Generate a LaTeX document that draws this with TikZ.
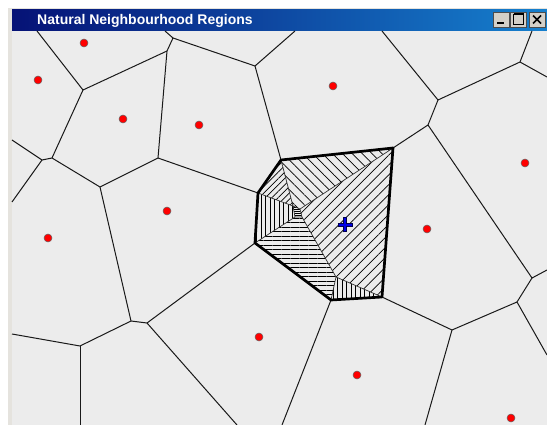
\documentclass[tikz,border=0pt]{standalone}
\usepackage{fontspec}
\setmainfont{Liberation Sans}
\usetikzlibrary{patterns.meta}
\definecolor{canvasgray}{RGB}{236,236,236}
\definecolor{framegray}{RGB}{212,208,200}
\definecolor{titledark}{RGB}{6,18,118}
\definecolor{titlelight}{RGB}{22,128,206}
\definecolor{crossblue}{RGB}{0,0,230}

\begin{document}
\begin{tikzpicture}[x=1pt,y=-1pt,
  edge/.style={draw=black!90,line width=1pt},
  seam/.style={draw=black!80,line width=0.7pt},
  rim/.style={draw=black,line width=2.7pt,line join=round},
  site/.style={circle,fill=red,draw=black!60,line width=0.5pt,
    inner sep=0pt,minimum size=8pt},
  btn/.style={draw=black!70,fill=framegray,minimum width=16pt,
    minimum height=15pt,inner sep=0pt},
  coarse/.style={pattern={Lines[angle=#1,distance=7pt,line width=0.7pt]}},
  fine/.style={pattern={Lines[angle=#1,distance=4.5pt,line width=0.7pt]}}
]
  \useasboundingbox (0,0) rectangle (547,425);
  \fill[white] (0,0) rectangle (547,425);
  \fill[framegray!60] (8,8) rectangle (547,425);
  \fill[canvasgray] (12,31) rectangle (547,425);
  \shade[left color=titledark,right color=titlelight] (12,10) rectangle (547,31);
  \node[anchor=west,text=white,font=\bfseries\fontsize{14}{16}\selectfont,
    inner sep=0pt] (title) at (37,20.5) {Natural Neighbourhood Regions};

  \node[btn] (minbtn) at (501,19.5) {};
  \node[btn] (maxbtn) at (518.5,19.5) {};
  \node[btn] (closebtn) at (537,19.5) {};
  \fill[black] ([xshift=-4pt,yshift=-3pt]minbtn.center) rectangle ([xshift=3pt,yshift=-5pt]minbtn.center);
  \draw[black,line width=0.9pt] ([xshift=-5pt,yshift=-5pt]maxbtn.center) rectangle ([xshift=5pt,yshift=5pt]maxbtn.center);
  \draw[black,line width=2pt] ([xshift=-5pt,yshift=5pt]maxbtn.center) -- ([xshift=5pt,yshift=5pt]maxbtn.center);
  \draw[black,line width=1.6pt] ([xshift=-4pt,yshift=-4pt]closebtn.center) -- ([xshift=4pt,yshift=4pt]closebtn.center)
    ([xshift=-4pt,yshift=4pt]closebtn.center) -- ([xshift=4pt,yshift=-4pt]closebtn.center);

  % Voronoi vertices
  \coordinate (A) at (83,90);
  \coordinate (B) at (167,51);
  \coordinate (C) at (173,38);
  \coordinate (D) at (158,158);
  \coordinate (E) at (52,158);
  \coordinate (F) at (42,160);
  \coordinate (G) at (100,187);
  \coordinate (H) at (131,321);
  \coordinate (I) at (147,323);
  \coordinate (W) at (80,346);
  \coordinate (K) at (255,66);
  \coordinate (M) at (438,100);
  \coordinate (N) at (520,62);
  \coordinate (O) at (428,125);
  \coordinate (Q) at (532,278);
  \coordinate (R) at (517,302);
  \coordinate (S) at (452,330);
  % corners of the new region
  \coordinate (L) at (281,160);
  \coordinate (P) at (393,148);
  \coordinate (T) at (382,297);
  \coordinate (U) at (331,300);
  \coordinate (V) at (255,243);
  \coordinate (J) at (258,193);
  \coordinate (X) at (336,277);
  \coordinate (ca) at (293,206);
  \coordinate (cb) at (300,209);
  \coordinate (cc) at (302,217);
  \coordinate (cd) at (295,217);
  % free ends on the canvas border
  \coordinate (e1) at (37,31);
  \coordinate (e2) at (165,31);
  \coordinate (e3) at (295,31);
  \coordinate (e4) at (382,31);
  \coordinate (e5) at (532,31);
  \coordinate (e6) at (547,77);
  \coordinate (e7) at (547,270);
  \coordinate (e8) at (547,355);
  \coordinate (e9) at (425,425);
  \coordinate (e10) at (282,425);
  \coordinate (e11) at (237,425);
  \coordinate (e12) at (80,425);
  \coordinate (e13) at (12,334);
  \coordinate (e14) at (12,202);
  \coordinate (e15) at (12,140);

  \draw[edge] (e1) -- (A) -- (B) -- (C) -- (e2);
  \draw[edge] (A) -- (E) -- (F) -- (e15);
  \draw[edge] (F) -- (e14);
  \draw[edge] (E) -- (G) -- (D) -- (B);
  \draw[edge] (D) -- (J);
  \draw[edge] (G) -- (H) -- (I) -- (V);
  \draw[edge] (I) -- (e11);
  \draw[edge] (H) -- (W) -- (e13);
  \draw[edge] (W) -- (e12);
  \draw[edge] (C) -- (K) -- (e3);
  \draw[edge] (K) -- (L);
  \draw[edge] (e4) -- (M) -- (N) -- (e5);
  \draw[edge] (N) -- (e6);
  \draw[edge] (M) -- (O) -- (P);
  \draw[edge] (O) -- (Q) -- (e7);
  \draw[edge] (Q) -- (R) -- (e8);
  \draw[edge] (R) -- (S) -- (T);
  \draw[edge] (S) -- (e9);
  \draw[edge] (U) -- (e10);

  \path[fine=45] (L) -- (ca) -- (J) -- cycle;
  \path[coarse=-45] (L) -- (P) -- (cb) -- (ca) -- cycle;
  \path[coarse=45] (P) -- (T) -- (X) -- (cc) -- (cb) -- cycle;
  \path[fine=90] (J) -- (ca) -- (cd) -- (V) -- cycle;
  \path[fine=0] (V) -- (cd) -- (cc) -- (X) -- (U) -- cycle;
  \path[fine=90] (X) -- (T) -- (U) -- cycle;
  \path[pattern={Lines[angle=0,distance=2pt,line width=0.4pt]}] (ca) -- (cb) -- (cc) -- (cd) -- cycle;
  \draw[seam] (L) -- (ca) -- (J);
  \draw[seam] (P) -- (cb);
  \draw[seam] (ca) -- (cb) -- (cc) -- (cd) -- cycle;
  \draw[seam] (V) -- (cd);
  \draw[seam] (cc) -- (X) -- (T);
  \draw[seam] (X) -- (U);
  \draw[rim] (L) -- (P) -- (T) -- (U) -- (V) -- (J) -- cycle;

  \foreach \sx/\sy [count=\i] in {84/43,38/80,123/119,199/125,167/211,48/238,
      333/86,525/163,427/229,259/337,357/375,511/418}
    \node[site] (site\i) at (\sx,\sy) {};

  \coordinate (probe) at (345,225);
  \draw[line width=3.8pt,draw=black!70!blue] ([xshift=-7.5pt]probe) -- ([xshift=7.5pt]probe)
    ([yshift=-7.5pt]probe) -- ([yshift=7.5pt]probe);
  \draw[line width=2pt,draw=crossblue] ([xshift=-6.5pt]probe) -- ([xshift=6.5pt]probe)
    ([yshift=-6.5pt]probe) -- ([yshift=6.5pt]probe);
\end{tikzpicture}
\end{document}
